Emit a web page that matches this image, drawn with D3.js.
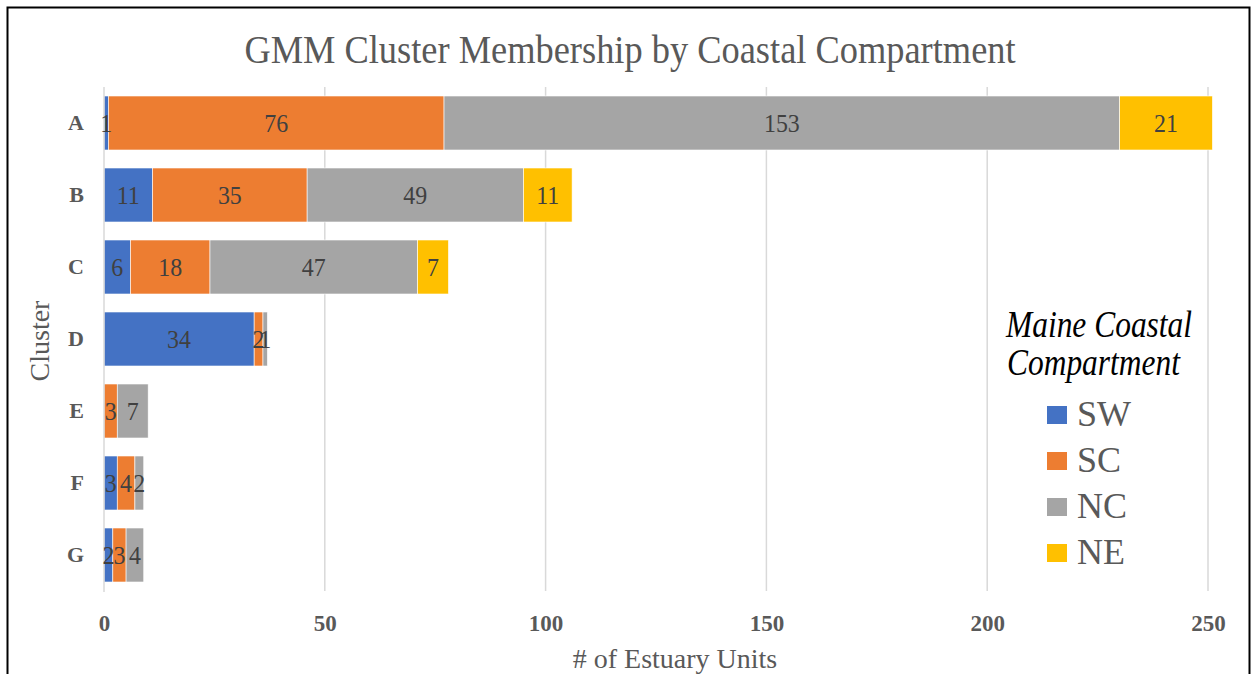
<!DOCTYPE html>
<html>
<head>
<meta charset="utf-8">
<script src="https://cdn.jsdelivr.net/npm/d3@7"></script>
<style>
  html, body { margin: 0; padding: 0; background: #fff; }
  svg { display: block; }
</style>
</head>
<body>
<svg id="chart" width="1254" height="674"></svg>
<script>
// Clusters and per-compartment counts
const clusters = ["A", "B", "C", "D", "E", "F", "G"];
const compartments = ["SW", "SC", "NC", "NE"];
const swValues = [1, 11, 6, 34, 0, 3, 2];
const scValues = [76, 35, 18, 2, 3, 4, 3];
const ncValues = [153, 49, 47, 1, 7, 2, 4];
const neValues = [21, 11, 7, 0, 0, 0, 0];
const xTicks = [0, 50, 100, 150, 200, 250];
const colors = ["#4472C4", "#ED7D31", "#A5A5A5", "#FFC000"];

const seriesValues = [swValues, scValues, ncValues, neValues];
const rows = clusters.map((c, i) => {
  const r = { cluster: c };
  compartments.forEach((k, j) => { r[k] = seriesValues[j][i]; });
  return r;
});

const svg = d3.select("#chart");
const serif = "'Liberation Serif', 'Times New Roman', serif";

// text placed at (x, y) with an optional horizontal squeeze
function label(parent, x, y, txt, opts) {
  const o = Object.assign({ size: 20, sx: 1, anchor: "middle", weight: "normal",
                            style: "normal", fill: "#595959", rotate: 0 }, opts || {});
  return parent.append("text")
    .attr("transform", `translate(${x},${y}) rotate(${o.rotate}) scale(${o.sx},1)`)
    .attr("text-anchor", o.anchor)
    .attr("font-family", serif)
    .attr("font-size", o.size)
    .attr("font-weight", o.weight)
    .attr("font-style", o.style)
    .attr("fill", o.fill)
    .text(txt);
}

// outer frame
svg.append("rect").attr("x", 7.5).attr("y", 7.5).attr("width", 1242).attr("height", 680)
  .attr("fill", "#fff").attr("stroke", "#000").attr("stroke-width", 2);

const x = d3.scaleLinear().domain([0, 250]).range([104, 1208]);
const y = d3.scaleBand().domain(clusters).range([87, 591]).paddingInner(0.25).paddingOuter(0.125);

// gridlines
svg.append("g").selectAll("line").data(xTicks.slice(1)).join("line")
  .attr("x1", d => x(d)).attr("x2", d => x(d))
  .attr("y1", 87).attr("y2", 591)
  .attr("stroke", "#D9D9D9").attr("stroke-width", 1.5);

// stacked bars
const stack = d3.stack().keys(compartments)(rows);
const color = d3.scaleOrdinal().domain(compartments).range(colors);

const layers = svg.append("g").selectAll("g").data(stack).join("g")
  .attr("fill", d => color(d.key));
layers.selectAll("rect").data(d => d.filter(p => p[1] - p[0] > 0)).join("rect")
  .attr("x", d => x(d[0]))
  .attr("y", d => y(d.data.cluster))
  .attr("width", d => x(d[1]) - x(d[0]))
  .attr("height", y.bandwidth())
  .attr("stroke", "#fff").attr("stroke-width", 0.6);

// vertical axis line
svg.append("line").attr("x1", x(0)).attr("x2", x(0)).attr("y1", 87).attr("y2", 592)
  .attr("stroke", "#D9D9D9").attr("stroke-width", 1.5);

// value labels, centred in each segment
const labels = svg.append("g");
stack.forEach(layer => {
  layer.filter(p => p[1] - p[0] > 0).forEach(p => {
    label(labels, x((p[0] + p[1]) / 2), y(p.data.cluster) + y.bandwidth() / 2 + 9,
          p[1] - p[0], { size: 26, sx: 0.92, fill: "#404040" });
  });
});

// x axis tick labels
const xAxis = d3.axisBottom(x).tickValues(xTicks).tickSize(0).tickPadding(0);
const gx = svg.append("g").attr("transform", "translate(0,631)").call(xAxis);
gx.select(".domain").remove();
gx.selectAll("text").attr("font-family", serif).attr("font-size", 23)
  .attr("font-weight", "bold").attr("fill", "#595959").attr("dy", 0);

// y axis labels
const yAxis = d3.axisLeft(y).tickSize(0).tickPadding(0);
const gy = svg.append("g").attr("transform", "translate(84,0)").call(yAxis);
gy.select(".domain").remove();
gy.selectAll("text").attr("font-family", serif).attr("font-size", 22)
  .attr("font-weight", "bold").attr("fill", "#595959").attr("dy", "0.33em");

// titles
label(svg, 630, 63, "GMM Cluster Membership by Coastal Compartment", { size: 40, sx: 0.91 });
label(svg, 675, 668, "# of Estuary Units", { size: 28 });
label(svg, 49, 341, "Cluster", { size: 28, rotate: -90 });

// legend
const lg = svg.append("g");
label(lg, 1006, 337, "Maine Coastal", { size: 37, sx: 0.85, anchor: "start", style: "italic", fill: "#000" });
label(lg, 1007, 375, "Compartment", { size: 37, sx: 0.85, anchor: "start", style: "italic", fill: "#000" });
const items = lg.selectAll("g.item").data(compartments).join("g").attr("class", "item")
  .attr("transform", (d, i) => `translate(1047,${415 + i * 46})`);
items.append("rect").attr("x", 0).attr("y", -9).attr("width", 20).attr("height", 18)
  .attr("fill", d => color(d));
items.each(function (d) {
  label(d3.select(this), 30, 11, d, { size: 36, anchor: "start" });
});
</script>
</body>
</html>
